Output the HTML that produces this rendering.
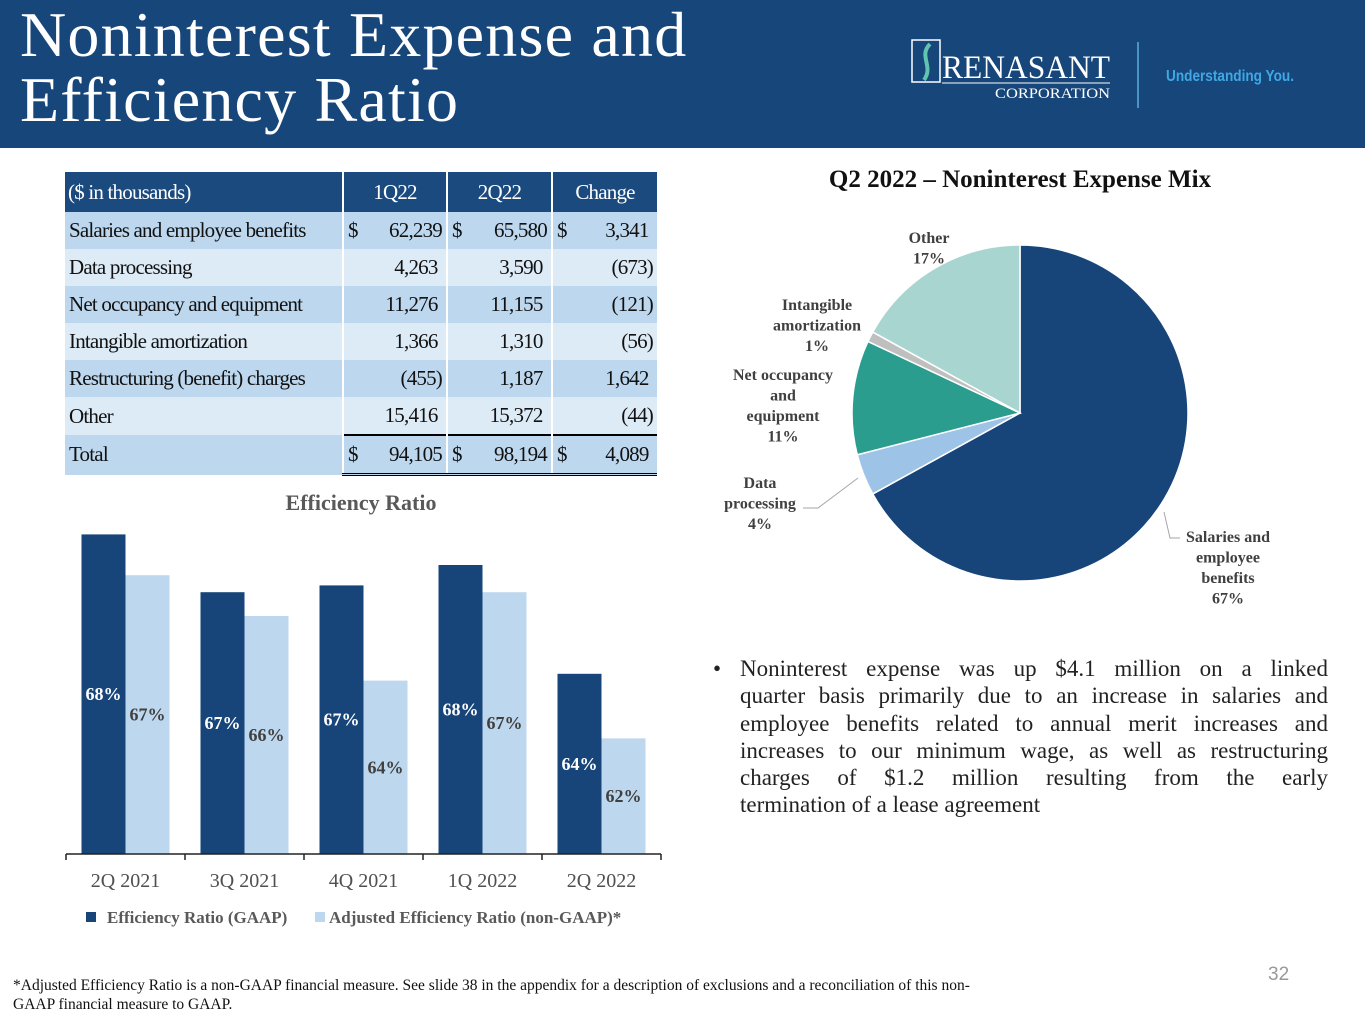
<!DOCTYPE html>
<html><head><meta charset="utf-8"><style>
body{margin:0;width:1365px;height:1024px;background:#fff;position:relative;overflow:hidden;font-family:"Liberation Serif",serif;}
.hdr{position:absolute;left:0;top:0;width:1365px;height:148px;background:#17467b;}
.title{position:absolute;left:20px;top:2px;color:#fff;font-size:64px;line-height:65px;letter-spacing:1.2px;}
table{position:absolute;left:65px;top:172px;border-collapse:collapse;font-size:21px;letter-spacing:-0.8px;color:#111;table-layout:fixed;width:592px;}
td{height:37px;padding:0 4px;white-space:nowrap;}
td.n{text-align:right;}
th{height:38px;background:#1b4b7e;color:#fff;font-weight:normal;}
.a td{background:#bdd7ee}.b td{background:#ddebf7}
.sep{border-left:2px solid #fff}
.bul{position:absolute;left:713px;top:655px;width:615px;font-size:23px;line-height:27.3px;color:#222;}
.ln{text-align:justify;text-align-last:justify;white-space:nowrap;}
</style></head><body>
<div class="hdr">
<div class="title">Noninterest Expense and<br>Efficiency Ratio</div>
<svg style="position:absolute;left:900px;top:30px" width="420" height="85">
<rect x="12" y="10" width="28" height="42" fill="none" stroke="#fff" stroke-width="1.5"/>
<path d="M30 14 C18 26 34 36 24 50" stroke="#5fc4b0" stroke-width="4" fill="none"/>
<text x="42" y="48" fill="#fff" font-size="33" font-family="Liberation Serif" textLength="168" lengthAdjust="spacingAndGlyphs">RENASANT</text>
<line x1="42" y1="53" x2="210" y2="53" stroke="#fff" stroke-width="1"/>
<text x="95" y="68" fill="#fff" font-size="15" font-family="Liberation Serif" textLength="115" lengthAdjust="spacingAndGlyphs">CORPORATION</text>
<line x1="238" y1="12" x2="238" y2="78" stroke="#5aaee0" stroke-width="1.5"/>
<text x="266" y="51" fill="#3fa8e3" font-size="16" font-weight="bold" font-family="Liberation Sans" textLength="128" lengthAdjust="spacingAndGlyphs">Understanding You.</text>
</svg>
</div>

<table>
<colgroup><col style="width:278px"><col style="width:104px"><col style="width:105px"><col style="width:105px"></colgroup>
<tr><th style="text-align:left;padding-left:3px">($ in thousands)</th><th class="sep">1Q22</th><th class="sep">2Q22</th><th class="sep">Change</th></tr>
<tr class="a"><td>Salaries and employee benefits</td><td class="n sep"><span style="float:left">$</span>62,239</td><td class="n sep"><span style="float:left">$</span>65,580</td><td class="n sep"><span style="float:left">$</span>3,341&nbsp;</td></tr>
<tr class="b"><td>Data processing</td><td class="n sep">4,263&nbsp;</td><td class="n sep">3,590&nbsp;</td><td class="n sep">(673)</td></tr>
<tr class="a"><td>Net occupancy and equipment</td><td class="n sep">11,276&nbsp;</td><td class="n sep">11,155&nbsp;</td><td class="n sep">(121)</td></tr>
<tr class="b"><td>Intangible amortization</td><td class="n sep">1,366&nbsp;</td><td class="n sep">1,310&nbsp;</td><td class="n sep">(56)</td></tr>
<tr class="a"><td>Restructuring (benefit) charges</td><td class="n sep">(455)</td><td class="n sep">1,187&nbsp;</td><td class="n sep">1,642&nbsp;</td></tr>
<tr class="b"><td>Other</td><td class="n sep">15,416&nbsp;</td><td class="n sep">15,372&nbsp;</td><td class="n sep">(44)</td></tr>
<tr class="a"><td>Total</td><td class="n sep" style="border-top:2px solid #000;border-bottom:3px double #000"><span style="float:left">$</span>94,105</td><td class="n sep" style="border-top:2px solid #000;border-bottom:3px double #000"><span style="float:left">$</span>98,194</td><td class="n sep" style="border-top:2px solid #000;border-bottom:3px double #000"><span style="float:left">$</span>4,089&nbsp;</td></tr>
</table>

<svg id="bar" style="position:absolute;left:0;top:480px" width="690" height="460"></svg>
<svg id="pie" style="position:absolute;left:690px;top:150px" width="675" height="470"></svg>

<div class="bul"><span style="position:absolute;left:0">•</span><div style="margin-left:27px">
<div class="ln">Noninterest expense was up $4.1 million on a linked</div>
<div class="ln">quarter basis primarily due to an increase in salaries and</div>
<div class="ln">employee benefits related to annual merit increases and</div>
<div class="ln">increases to our minimum wage, as well as restructuring</div>
<div class="ln">charges of $1.2 million resulting from the early</div>
<div>termination of a lease agreement</div>
</div></div>

<div style="position:absolute;left:1268px;top:964px;font-size:19px;color:#999;font-family:'Liberation Sans',sans-serif">32</div>
<div style="position:absolute;left:13px;top:976px;font-size:15.5px;line-height:19px;color:#111;width:1100px">*Adjusted Efficiency Ratio is a non-GAAP financial measure. See slide 38 in the appendix for a description of exclusions and a reconciliation of this non-<br>GAAP financial measure to GAAP.</div>

<script>
const categories=["2Q 2021","3Q 2021","4Q 2021","1Q 2022","2Q 2022"];
const gaapValues=[68.0,66.3,66.5,67.1,63.9];
const adjValues=[66.8,65.6,63.7,66.3,62.0];
const gaapLabels=["68%","67%","67%","68%","64%"];
const adjLabels=["67%","66%","64%","67%","62%"];
const pieCategories=["Salaries and employee benefits","Data processing","Net occupancy and equipment","Intangible amortization","Other"];
const pieValues=[67,4,11,1,17];

const NS="http://www.w3.org/2000/svg";
function mk(p,t,a,txt){const e=document.createElementNS(NS,t);for(const k in a)e.setAttribute(k,a[k]);if(txt!==undefined)e.textContent=txt;p.appendChild(e);return e;}
const bar=document.getElementById('bar');
const base=374, yMin=58.6, pxPer=34, x0=66, x1=661, band=(x1-x0)/categories.length, bw=44;
const y=v=>base-(v-yMin)*pxPer;
let t=mk(bar,'text',{x:361,y:30,'text-anchor':'middle','font-size':22,'font-weight':'bold',fill:'#595959','font-family':'Liberation Serif'},'Efficiency Ratio');

categories.forEach((c,i)=>{
 const cx=x0+band*i+band/2;
 let r=mk(bar,'rect',{x:cx-bw,y:y(gaapValues[i]),width:bw,height:base-y(gaapValues[i]),fill:'#17457a'});
 
 let r2=mk(bar,'rect',{x:cx,y:y(adjValues[i]),width:bw,height:base-y(adjValues[i]),fill:'#bdd7ee'});
 
 let l=mk(bar,'text',{x:cx-bw/2,y:(y(gaapValues[i])+base)/2+6,'text-anchor':'middle','font-size':18,'font-weight':'bold',fill:'#fff','font-family':'Liberation Serif'},gaapLabels[i]);
 
 let l2=mk(bar,'text',{x:cx+bw/2,y:(y(adjValues[i])+base)/2+6,'text-anchor':'middle','font-size':18,'font-weight':'bold',fill:'#404040','font-family':'Liberation Serif'},adjLabels[i]);
 
 let tl=mk(bar,'text',{x:cx,y:407,'text-anchor':'middle','font-size':20,fill:'#505050','font-family':'Liberation Serif'},c);
 
 mk(bar,'line',{x1:x0+band*i,y1:base,x2:x0+band*i,y2:base+6,stroke:'#222','stroke-width':1.5});
});
mk(bar,'line',{x1:x1,y1:base,x2:x1,y2:base+6,stroke:'#222','stroke-width':1.5});
let ax=mk(bar,'line',{x1:x0,y1:base,x2:x1,y2:base,stroke:'#222','stroke-width':1.5});

mk(bar,'rect',{x:86,y:432,width:10,height:10,fill:'#17457a'});
let lg1=mk(bar,'text',{x:107,y:443,'font-size':17,'font-weight':'bold',fill:'#595959','font-family':'Liberation Serif'},'Efficiency Ratio (GAAP)');

mk(bar,'rect',{x:315,y:432,width:10,height:10,fill:'#bdd7ee'});
let lg2=mk(bar,'text',{x:329,y:443,'font-size':17,'font-weight':'bold',fill:'#595959','font-family':'Liberation Serif'},'Adjusted Efficiency Ratio (non-GAAP)*');


const pie=document.getElementById('pie');
const pcx=330,pcy=263,R=168;
const colors=['#17457a','#9dc3e6','#2a9d8f','#bfbfbf','#a8d5cf'];
let pt=mk(pie,'text',{x:330,y:37,'text-anchor':'middle','font-size':25,'font-weight':'bold',fill:'#111','font-family':'Liberation Serif'},'Q2 2022 – Noninterest Expense Mix');

const tot=pieValues.reduce((a,b)=>a+b,0);let acc=0;
const pt2=(a,r)=>[pcx+r*Math.sin(a),pcy-r*Math.cos(a)];
pieValues.forEach((v,i)=>{
 const a0=acc/tot*2*Math.PI;acc+=v;const a1=acc/tot*2*Math.PI;
 const [sx,sy]=pt2(a0,R),[ex,ey]=pt2(a1,R);
 let p=mk(pie,'path',{d:`M${pcx},${pcy}L${sx},${sy}A${R},${R} 0 ${a1-a0>Math.PI?1:0} 1 ${ex},${ey}Z`,fill:colors[i],stroke:'#fff','stroke-width':1.5});
 
});
const lbls=[[538,392,['Salaries and','employee','benefits',pieValues[0]+'%']],[70,338,['Data','processing',pieValues[1]+'%']],[93,230,['Net occupancy','and','equipment',pieValues[2]+'%']],[127,160,['Intangible','amortization',pieValues[3]+'%']],[239,93,['Other',pieValues[4]+'%']]];
lbls.forEach(([x,yy,lines])=>{
 let tx=mk(pie,'text',{'text-anchor':'middle','font-size':16,'font-weight':'bold',fill:'#404040','font-family':'Liberation Serif'});
 
 lines.forEach((s,k)=>mk(tx,'tspan',{x:x,y:yy+k*20.5},s));
});
mk(pie,'polyline',{points:'474,362 480,388 490,388',fill:'none',stroke:'#a6a6a6'});
mk(pie,'polyline',{points:'113,358 128,358 168,328',fill:'none',stroke:'#a6a6a6'});
</script>
</body></html>
